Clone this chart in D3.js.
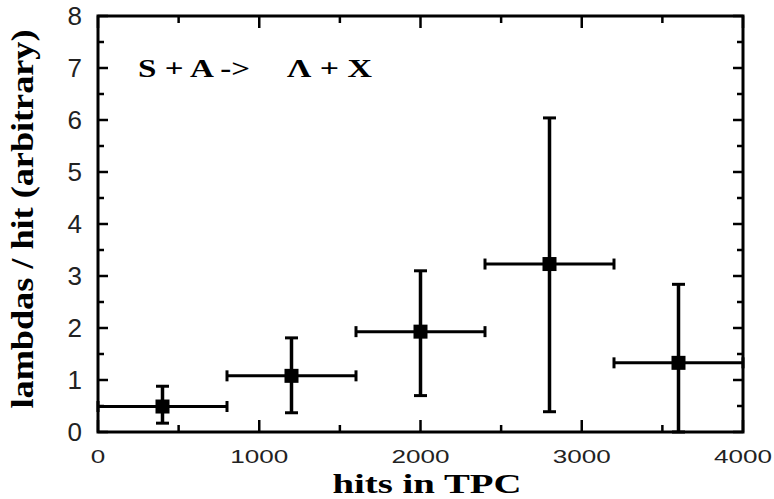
<!DOCTYPE html>
<html>
<head>
<meta charset="utf-8">
<script src="https://cdn.jsdelivr.net/npm/d3@7"></script>
<style>
  body { margin: 0; background: #fff; }
  svg { display: block; }
</style>
</head>
<body>
<svg id="chart"></svg>
<script>
/* DATA */
const hits = [400, 1200, 2000, 2800, 3600];
const hitsLow = [0, 800, 1600, 2400, 3200];
const hitsHigh = [800, 1600, 2400, 3200, 4000];
const lambdas = [0.49, 1.08, 1.93, 3.23, 1.33];
const lambdasLow = [0.17, 0.37, 0.70, 0.39, 0.0];
const lambdasHigh = [0.88, 1.81, 3.10, 6.04, 2.84];

const xTicks = [0, 1000, 2000, 3000, 4000];
const yTicks = [0, 1, 2, 3, 4, 5, 6, 7, 8];

/* CONSTANTS */
const width = 774,
  height = 499,
  margin = { top: 16, bottom: 67, left: 98, right: 31 };

const svg = d3.select("#chart")
  .attr("width", width)
  .attr("height", height);

const x = d3.scaleLinear()
  .domain([0, 4000])
  .range([margin.left, width - margin.right]);

const y = d3.scaleLinear()
  .domain([0, 8])
  .range([height - margin.bottom, margin.top]);

const points = hits.map((h, i) => ({
  x: h, lo: hitsLow[i], hi: hitsHigh[i],
  y: lambdas[i], ylo: lambdasLow[i], yhi: lambdasHigh[i]
}));

// inner ticks on all four sides
const minorX = d3.range(0, 4001, 500);
const minorY = d3.range(0, 8.01, 0.5);

const tickG = svg.append("g")
  .attr("stroke", "#000")
  .attr("stroke-width", 2.5);

minorX.forEach(v => {
  const len = v % 1000 === 0 ? 12 : 7;
  tickG.append("line")
    .attr("x1", x(v)).attr("x2", x(v))
    .attr("y1", y(0)).attr("y2", y(0) - len);
  tickG.append("line")
    .attr("x1", x(v)).attr("x2", x(v))
    .attr("y1", y(8)).attr("y2", y(8) + len);
});

minorY.forEach(v => {
  const len = v % 1 === 0 ? 10 : 6;
  tickG.append("line")
    .attr("x1", x(0)).attr("x2", x(0) + len)
    .attr("y1", y(v)).attr("y2", y(v));
  tickG.append("line")
    .attr("x1", x(4000)).attr("x2", x(4000) - len)
    .attr("y1", y(v)).attr("y2", y(v));
});

// frame
svg.append("rect")
  .attr("x", x(0))
  .attr("y", y(8))
  .attr("width", x(4000) - x(0))
  .attr("height", y(0) - y(8))
  .attr("fill", "none")
  .attr("stroke", "#000")
  .attr("stroke-width", 3);

// tick labels
svg.append("g")
  .selectAll("text")
  .data(xTicks)
  .join("text")
    .attr("x", d => x(d))
    .attr("y", 462.5)
    .attr("text-anchor", "middle")
    .attr("font-family", "Liberation Sans, Arial, sans-serif")
    .attr("font-size", 19)
    .attr("fill", "#222")
    .attr("textLength", d => String(d).length * 14.5)
    .attr("lengthAdjust", "spacingAndGlyphs")
    .text(d => d);

svg.append("g")
  .selectAll("text")
  .data(yTicks)
  .join("text")
    .attr("x", 82)
    .attr("y", d => y(d) + 9)
    .attr("text-anchor", "end")
    .attr("font-family", "Liberation Sans, Arial, sans-serif")
    .attr("font-size", 26)
    .attr("fill", "#222")
    .text(d => d);

// axis titles
svg.append("text")
  .attr("x", 427)
  .attr("y", 492.5)
  .attr("text-anchor", "middle")
  .attr("font-family", "Liberation Serif, Times New Roman, serif")
  .attr("font-weight", "bold")
  .attr("font-size", 28)
  .attr("textLength", 189)
  .attr("lengthAdjust", "spacingAndGlyphs")
  .text("hits in TPC");

svg.append("text")
  .attr("transform", "translate(33,219) rotate(-90)")
  .attr("text-anchor", "middle")
  .attr("font-family", "Liberation Serif, Times New Roman, serif")
  .attr("font-weight", "bold")
  .attr("font-size", 31)
  .attr("textLength", 379)
  .attr("lengthAdjust", "spacingAndGlyphs")
  .text("lambdas / hit  (arbitrary)");

// reaction label
const label = svg.append("g")
  .attr("font-family", "Liberation Serif, Times New Roman, serif")
  .attr("font-weight", "bold")
  .attr("font-size", 26);

label.append("text")
  .attr("x", 138).attr("y", 77)
  .attr("textLength", 112)
  .attr("lengthAdjust", "spacingAndGlyphs")
  .text("S + A ->");

label.append("text")
  .attr("x", 287).attr("y", 77)
  .attr("textLength", 85)
  .attr("lengthAdjust", "spacingAndGlyphs")
  .text("Λ + X");

// error bars
const errG = svg.append("g")
  .attr("stroke", "#000")
  .attr("stroke-width", 3);

const capW = 6.5;

points.forEach(d => {
  // horizontal bar
  errG.append("line")
    .attr("x1", x(d.lo)).attr("x2", x(d.hi))
    .attr("y1", y(d.y)).attr("y2", y(d.y));
  [d.lo, d.hi].forEach(v => {
    errG.append("line")
      .attr("x1", x(v)).attr("x2", x(v))
      .attr("y1", y(d.y) - 5.5).attr("y2", y(d.y) + 5.5);
  });
  // vertical bar
  errG.append("line")
    .attr("x1", x(d.x)).attr("x2", x(d.x))
    .attr("y1", y(d.ylo)).attr("y2", y(d.yhi))
    .attr("stroke-width", 3.5);
  [d.ylo, d.yhi].forEach(v => {
    errG.append("line")
      .attr("x1", x(d.x) - capW).attr("x2", x(d.x) + capW)
      .attr("y1", y(v)).attr("y2", y(v));
  });
});

// markers
svg.append("g")
  .selectAll("rect")
  .data(points)
  .join("rect")
    .attr("x", d => x(d.x) - 7)
    .attr("y", d => y(d.y) - 7)
    .attr("width", 14)
    .attr("height", 14)
    .attr("fill", "#000");
</script>
</body>
</html>
